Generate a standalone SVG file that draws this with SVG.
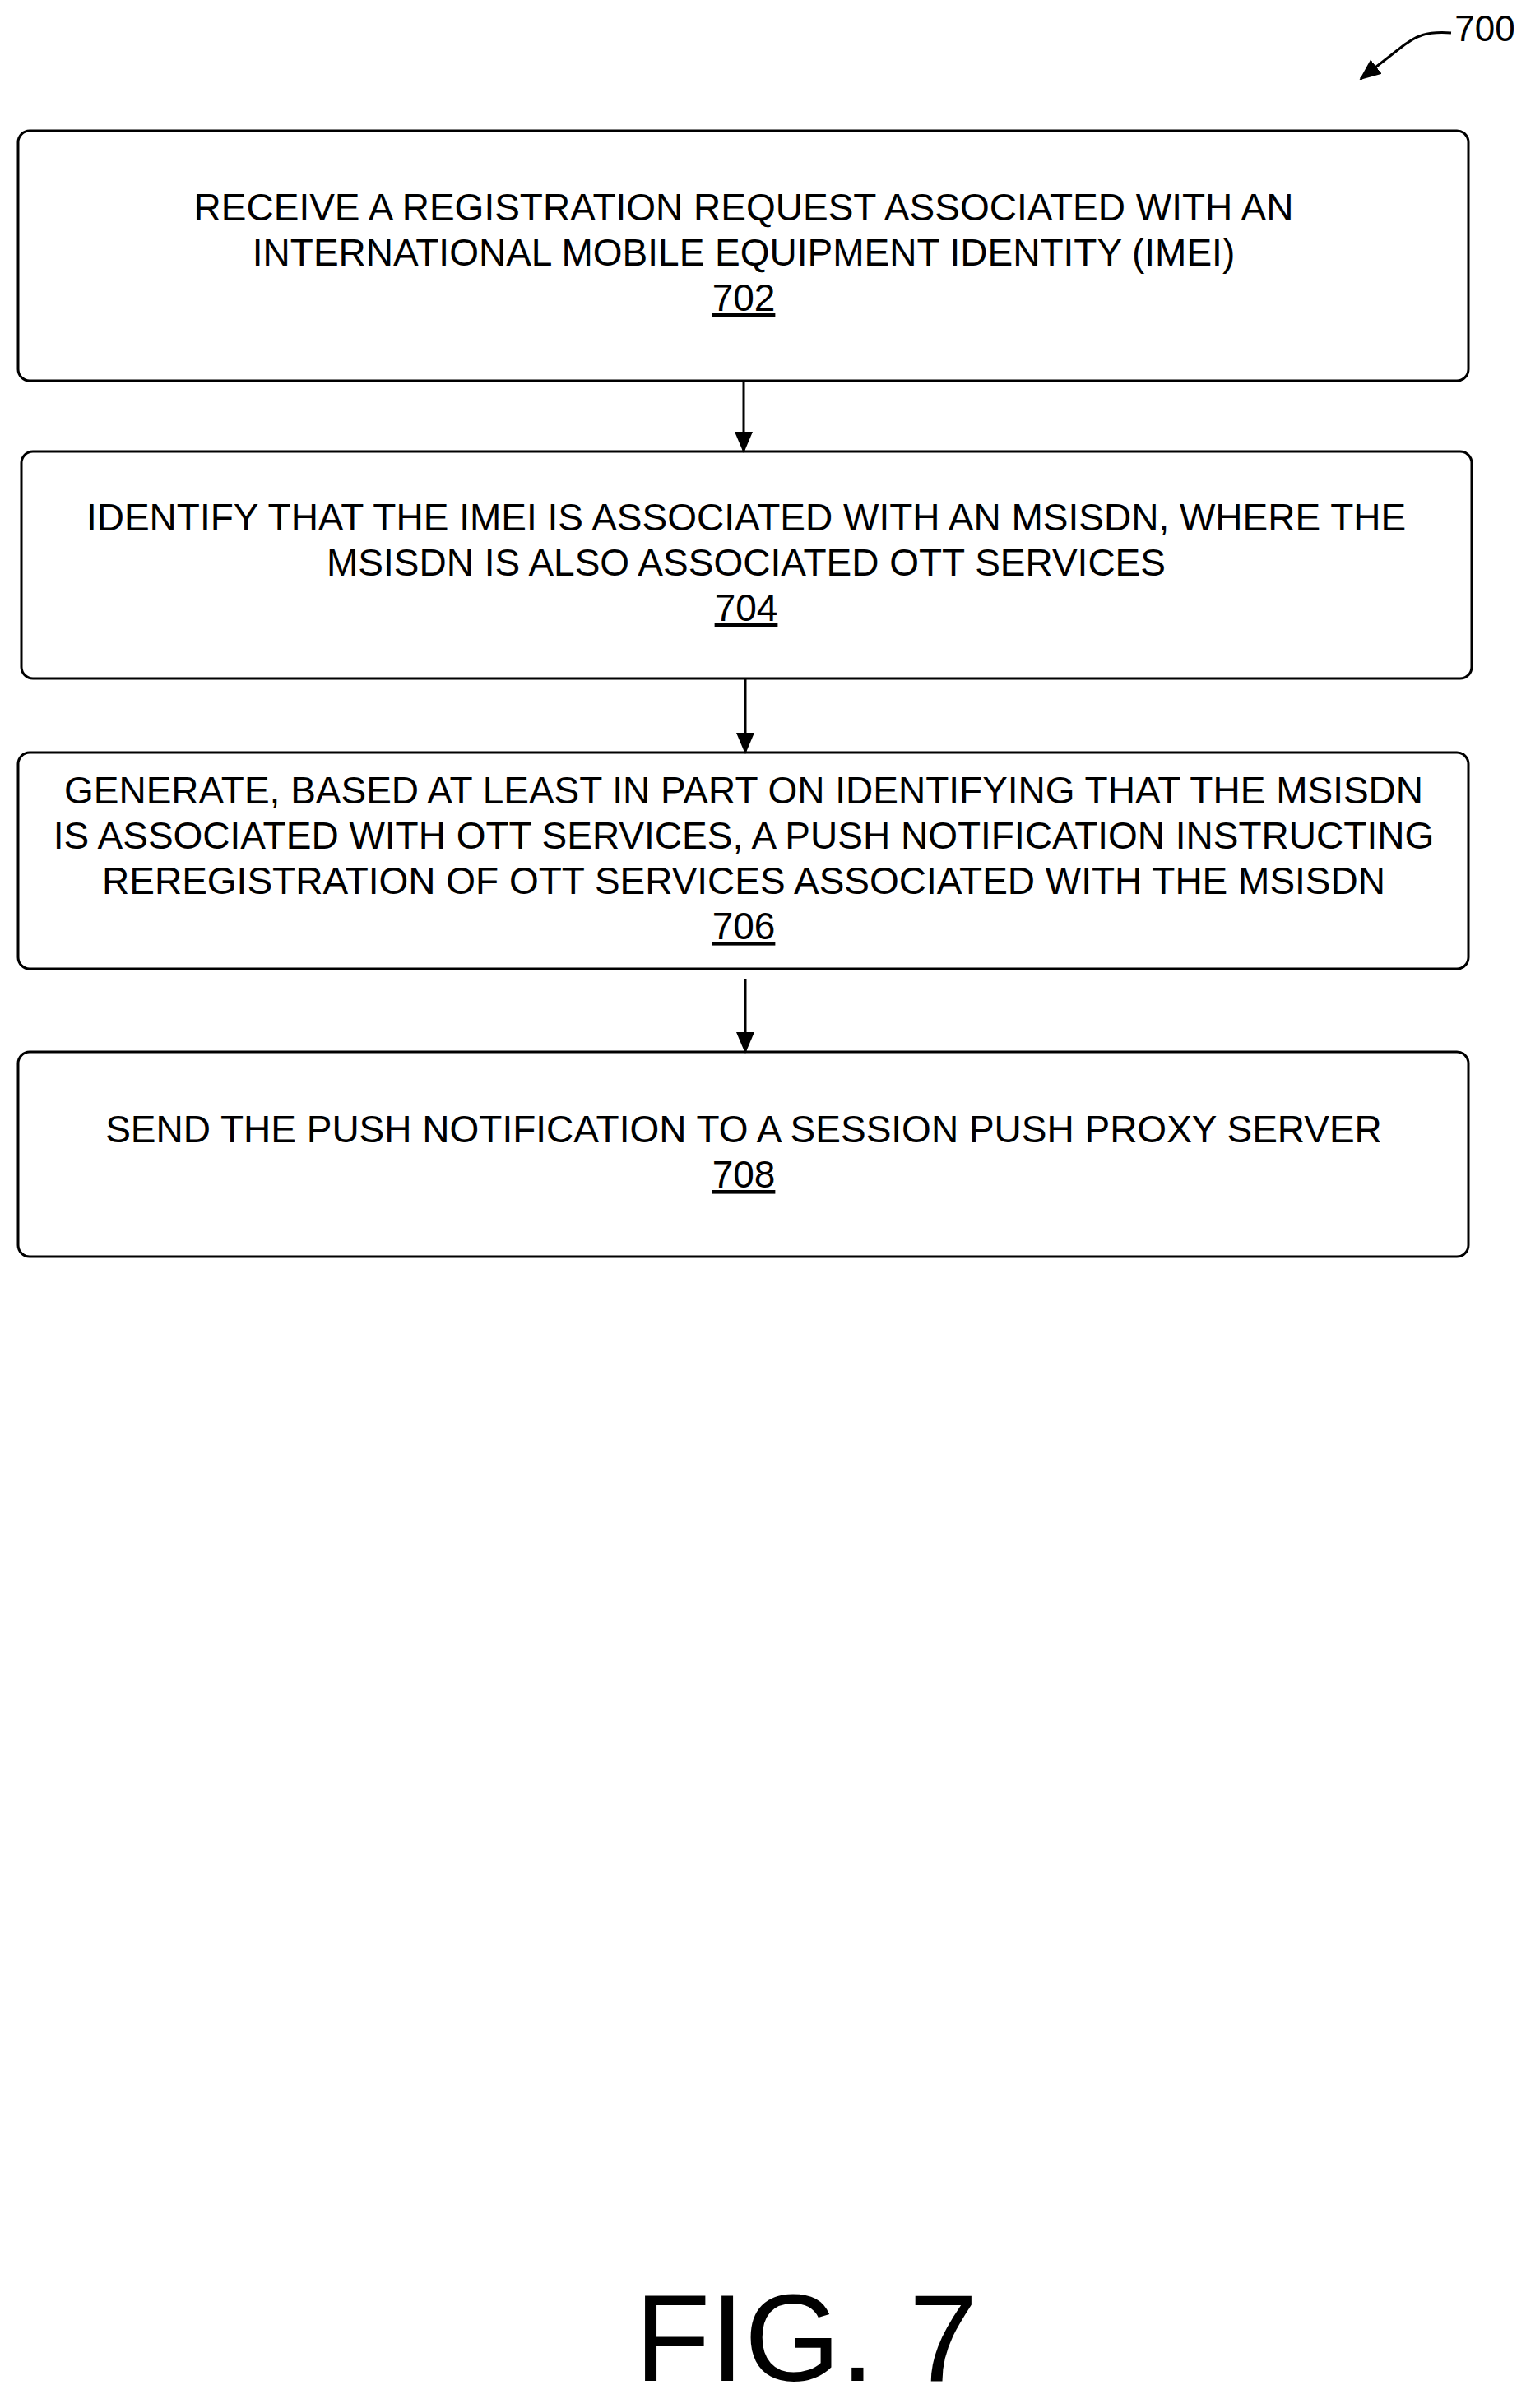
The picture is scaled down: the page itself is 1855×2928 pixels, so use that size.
<svg xmlns="http://www.w3.org/2000/svg" width="1855" height="2928" viewBox="0 0 1855 2928">
<style>
.box{fill:#fff;stroke:#000;stroke-width:3}
text{font-family:"Liberation Sans",Arial,sans-serif;font-size:46px;text-anchor:middle;fill:#000}
.u{text-decoration:underline}
.c{stroke:#000;stroke-width:3;fill:none}
</style>
<defs>
<marker id="b" markerWidth="26" markerHeight="26" refX="24" refY="13" orient="auto" markerUnits="userSpaceOnUse" viewBox="0 0 26 26"><path d="M0,2L26,13L0,24z" fill="#000"/></marker></defs>
<rect width="1855" height="2928" fill="#fff"/>
<g id="n702"><rect class="box" x="22" y="159" width="1763" height="304" rx="14"/>
<text x="904" y="268">RECEIVE A REGISTRATION REQUEST ASSOCIATED WITH AN</text>
<text x="904" y="323">INTERNATIONAL MOBILE EQUIPMENT IDENTITY (IMEI)</text>
<text x="904" y="378" class="u">702</text></g>
<g id="n704"><rect class="box" x="26" y="549" width="1763" height="276" rx="14"/>
<text x="907" y="645">IDENTIFY THAT THE IMEI IS ASSOCIATED WITH AN MSISDN, WHERE THE</text>
<text x="907" y="700">MSISDN IS ALSO ASSOCIATED OTT SERVICES</text>
<text x="907" y="755" class="u">704</text></g>
<g id="n706"><rect class="box" x="22" y="915" width="1763" height="263" rx="14"/>
<text x="904" y="977">GENERATE, BASED AT LEAST IN PART ON IDENTIFYING THAT THE MSISDN</text>
<text x="904" y="1032">IS ASSOCIATED WITH OTT SERVICES, A PUSH NOTIFICATION INSTRUCTING</text>
<text x="904" y="1087">REREGISTRATION OF OTT SERVICES ASSOCIATED WITH THE MSISDN</text>
<text x="904" y="1142" class="u">706</text></g>
<g id="n708"><rect class="box" x="22" y="1279" width="1763" height="249" rx="14"/>
<text x="904" y="1389">SEND THE PUSH NOTIFICATION TO A SESSION PUSH PROXY SERVER</text>
<text x="904" y="1444" class="u">708</text></g>
<g id="connectors">
<line class="c" x1="904" y1="463" x2="904" y2="549" marker-end="url(#b)"/>
<line class="c" x1="906" y1="825" x2="906" y2="915" marker-end="url(#b)"/>
<line class="c" x1="906" y1="1190" x2="906" y2="1279" marker-end="url(#b)"/>
<path class="c" d="M1764,40 C1735,38 1722,42 1700,60 L1654,96" marker-end="url(#b)"/>
</g>
<text x="1805" y="50" style="font-size:44px">700</text>
<text x="980" y="2895" style="font-size:150px">FIG. 7</text>
</svg>
